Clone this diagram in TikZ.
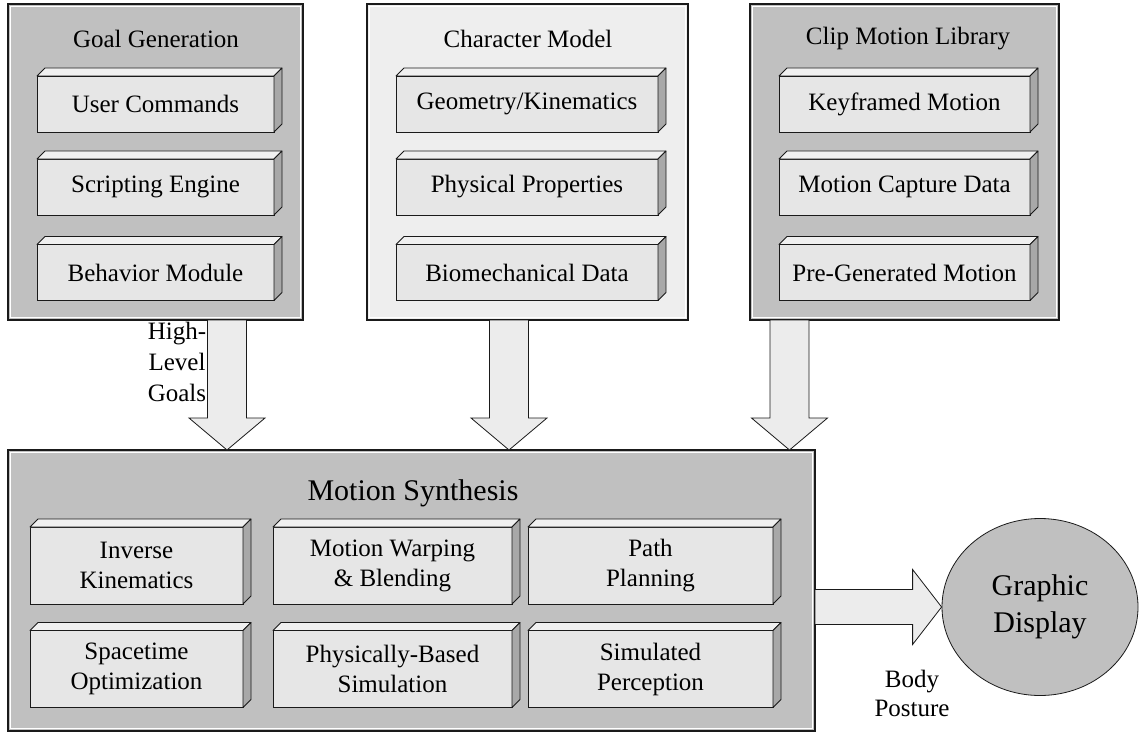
\documentclass[tikz,border=0pt]{standalone}
\usepackage{fontspec}
\setmainfont{Liberation Serif}
\usetikzlibrary{calc,shapes.geometric}
\definecolor{outergray}{HTML}{C0C0C0}
\definecolor{lightbg}{HTML}{EEEEEE}
\definecolor{frontface}{HTML}{E6E6E6}
\definecolor{topface}{HTML}{F0F0F0}
\definecolor{sideface}{HTML}{A8A8A8}
\definecolor{linecol}{HTML}{1A1A1A}
\definecolor{arrowfill}{HTML}{ECECEC}
\newcommand\normaltext{\fontsize{25}{30}\selectfont}
\newcommand\bigtext{\fontsize{30}{37}\selectfont}
\tikzset{
  outerbox/.style={draw=linecol, line width=1.2pt, rectangle, outer sep=0pt, inner sep=0pt},
  innerline/.style={draw=white, line width=0.9pt},
  blockbox/.style={draw=linecol, line width=0.8pt, fill=frontface, rectangle, outer sep=0pt, inner sep=0pt, align=center, font=\normaltext},
  topfacestyle/.style={fill=topface, draw=linecol, line width=0.8pt, line join=round},
  sidefacestyle/.style={fill=sideface, draw=linecol, line width=0.8pt, line join=round},
  titletext/.style={font=\normaltext, inner sep=0pt},
  labeltext/.style={font=\fontsize{25}{31}\selectfont, align=center, inner sep=0pt},
  blockarrow/.style={fill=arrowfill, draw=linecol, line width=0.8pt, line join=miter},
}
\newcommand\threed[1]{%
  \path[topfacestyle] (#1.north west) -- ([shift={(8,-8)}]#1.north west) -- ([shift={(8,-8)}]#1.north east) -- (#1.north east) -- cycle;
  \path[sidefacestyle] (#1.north east) -- ([shift={(8,-8)}]#1.north east) -- ([shift={(8,-8)}]#1.south east) -- (#1.south east) -- cycle;
}
\newcommand\blk[6]{%
  \node[blockbox, minimum width=#4pt, minimum height=#5pt] (#1) at (#2,#3) {#6};
  \threed{#1}%
}
\newcommand\frameinset[1]{%
  \draw[innerline] ([shift={(2.2,2.2)}]#1.north west) rectangle ([shift={(-2.2,-2.2)}]#1.south east);
}
\newcommand\downblock[2]{%
  \path[blockarrow] let \p1=#1, \p2=#2 in
    (\x1-19.5pt,\y1) -- (\x1+19.5pt,\y1) -- (\x1+19.5pt,\y2+32pt) -- (\x1+38pt,\y2+32pt)
    -- (\x2,\y2) -- (\x1-38pt,\y2+32pt) -- (\x1-19.5pt,\y2+32pt) -- cycle;
}
\newcommand\rightblock[2]{%
  \path[blockarrow] let \p1=#1, \p2=#2 in
    (\x1,\y1+17.5pt) -- (\x2-29pt,\y1+17.5pt) -- (\x2-29pt,\y1+37.5pt) -- (\x2,\y2)
    -- (\x2-29pt,\y1-37.5pt) -- (\x2-29pt,\y1-17.5pt) -- (\x1,\y1-17.5pt) -- cycle;
}
\begin{document}
\begin{tikzpicture}[x=1pt,y=-1pt]
\useasboundingbox (0,0) rectangle (1140,733);
\fill[white] (0,0) rectangle (1140,733);

% ---------- top boxes ----------
\node[outerbox, fill=outergray, minimum width=295pt, minimum height=316pt] (goal) at (155.5,162) {};
\frameinset{goal}
\node[titletext] (goalt) at (156,39) {Goal Generation};
\blk{gb1}{155.5}{104}{237}{56}{User Commands}
\blk{gb2}{155.5}{187}{237}{56}{Scripting Engine}
\blk{gb3}{155.5}{272.5}{237}{56}{Behavior Module}

\node[outerbox, fill=lightbg, minimum width=321pt, minimum height=316pt] (charm) at (527.5,162) {};
\frameinset{charm}
\node[titletext] (charmt) at (528,39) {Character Model};
\blk{cb1}{527}{104}{262}{56}{Geometry/Kinematics}
\blk{cb2}{527}{187}{262}{56}{Physical Properties}
\blk{cb3}{527}{272.5}{262}{56}{Biomechanical Data}

\node[outerbox, fill=outergray, minimum width=309pt, minimum height=316pt] (clip) at (904.5,162) {};
\frameinset{clip}
\node[titletext] (clipt) at (908,39) {Clip Motion Library};
\blk{lb1}{904.5}{104}{251}{56}{Keyframed Motion}
\blk{lb2}{904.5}{187}{251}{56}{Motion Capture Data}
\blk{lb3}{904.5}{272.5}{251}{56}{Pre-Generated Motion}

% ---------- motion synthesis ----------
\node[outerbox, fill=outergray, minimum width=807pt, minimum height=281pt] (synth) at (411.5,590.5) {};
\frameinset{synth}
\node[font=\bigtext, inner sep=0pt] (syntht) at (413,493) {Motion Synthesis};
\blk{sb1}{136.5}{565.5}{213}{77}{Inverse\\Kinematics}
\blk{sb2}{392.5}{565.5}{239}{77}{Motion Warping\\\& Blending}
\blk{sb3}{650.5}{565.5}{245}{77}{Path\\Planning}
\blk{sb4}{136.5}{669}{213}{77}{Spacetime\\Optimization}
\blk{sb5}{392.5}{669}{239}{77}{Physically-Based\\Simulation}
\blk{sb6}{650.5}{669}{245}{77}{Simulated\\Perception}

% ---------- display ----------
\node[ellipse, draw=linecol, line width=0.8pt, fill=outergray, minimum width=196pt, minimum height=177pt, inner sep=0pt, font=\bigtext, align=center] (disp) at (1040,607) {Graphic\\Display};

% ---------- arrows ----------
\coordinate (ga) at (227,0);
\coordinate (ca) at (509,0);
\coordinate (la) at (789.5,0);
\downblock{(goal.south -| ga)}{(synth.north -| ga)}
\downblock{(charm.south -| ca)}{(synth.north -| ca)}
\downblock{(clip.south -| la)}{(synth.north -| la)}
\rightblock{(synth.east |- disp.west)}{(disp.west)}

% ---------- labels ----------
\node[labeltext] (hlg) at (177,362) {High-\\Level\\Goals};
\node[labeltext, font=\fontsize{25}{29}\selectfont] (bp) at (912,693) {Body\\Posture};
\end{tikzpicture}
\end{document}
